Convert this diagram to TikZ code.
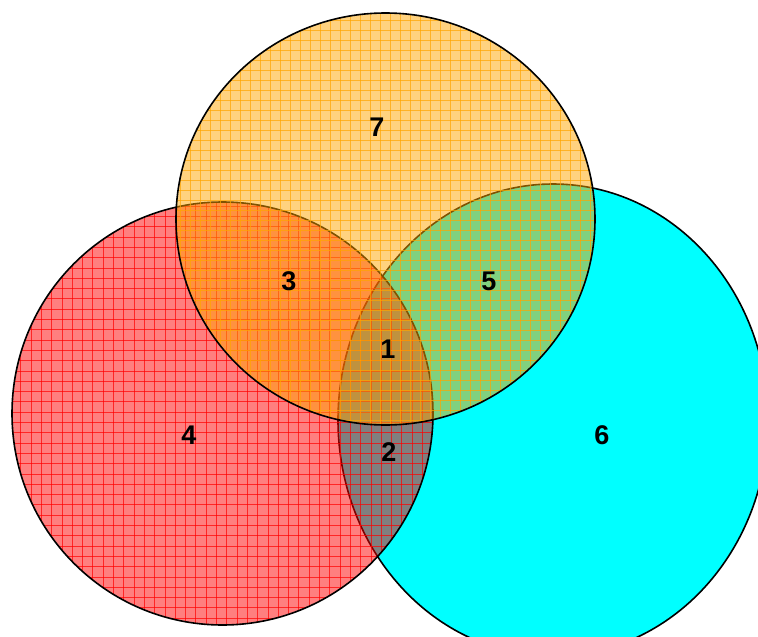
\documentclass[tikz,border=0pt]{standalone}
\usepackage{fontspec}
\setmainfont{Liberation Sans}
\definecolor{cyanfill}{RGB}{0,255,255}
\definecolor{orangefill}{RGB}{255,165,0}
\definecolor{redfill}{RGB}{255,0,0}
\tikzset{
  outline/.style={draw=black, line width=1.6pt},
  gridline/.style={line width=0.45pt, draw opacity=0.7},
  lab/.style={font=\fontsize{27}{27}\selectfont\bfseries, inner sep=0pt, text=black},
  redshape/.style={x radius=210.5, y radius=211.5},
  orangeshape/.style={x radius=209.5, y radius=206},
  cyanshape/.style={x radius=215, y radius=236},
}
\begin{document}
\begin{tikzpicture}[x=1pt,y=-1pt]
\useasboundingbox (0,0) rectangle (758,637);
\coordinate (cR) at (222.5,413.5);
\coordinate (cO) at (385.5,219);
\coordinate (cC) at (553,420);
% cyan (opaque)
\path[fill=cyanfill] (cC) ellipse [cyanshape];
\path[outline] (cC) ellipse [cyanshape];
% red (half transparent, grid)
\path[fill=redfill, fill opacity=0.5] (cR) ellipse [redshape];
\begin{scope}
  \clip (cR) ellipse [redshape];
  \foreach \k in {0,...,62} {
    \draw[gridline, draw=redfill] (10.3*\k,0) -- (10.3*\k,637);
  }
  \foreach \k in {0,...,62} {
    \draw[gridline, draw=redfill] (0,10.3*\k) -- (758,10.3*\k);
  }
\end{scope}
\path[outline] (cR) ellipse [redshape];
% orange (half transparent, grid)
\path[fill=orangefill, fill opacity=0.5] (cO) ellipse [orangeshape];
\begin{scope}
  \clip (cO) ellipse [orangeshape];
  \foreach \k in {0,...,74} {
    \draw[gridline, draw=orangefill] (10*\k,0) -- (10*\k,637);
  }
  \foreach \k in {0,...,64} {
    \draw[gridline, draw=orangefill] (0,10*\k) -- (758,10*\k);
  }
\end{scope}
\path[outline] (cO) ellipse [orangeshape];
% labels
\node[lab] (l7) at (377,127) {7};
\node[lab] (l3) at (289,281) {3};
\node[lab] (l5) at (489,281) {5};
\node[lab] (l1) at (388,349) {1};
\node[lab] (l4) at (189,435) {4};
\node[lab] (l2) at (389,452) {2};
\node[lab] (l6) at (602,435) {6};
\end{tikzpicture}
\end{document}
